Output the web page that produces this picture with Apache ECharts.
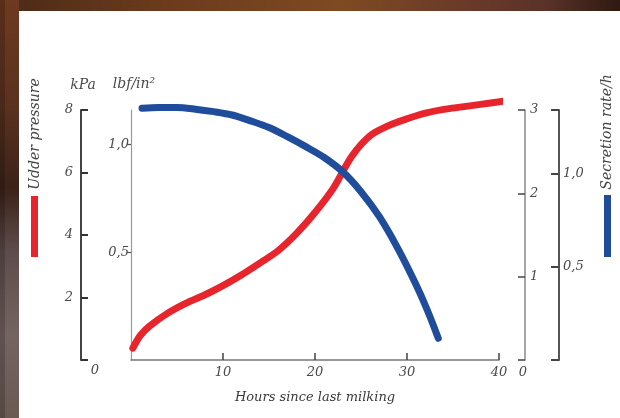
<!DOCTYPE html>
<html>
<head>
<meta charset="utf-8">
<script src="https://cdn.jsdelivr.net/npm/echarts@6/dist/echarts.min.js"></script>
<style>
html,body{margin:0;padding:0;background:#fff;}
#chart{width:620px;height:418px;}
</style>
</head>
<body>
<div id="chart"></div>
<script>
// ---- data ----
var hourTicks = [10, 20, 30, 40];
var kpaTicks = [2, 4, 6, 8];
var lbfTicks = [0.5, 1.0];
var rateTicks = [1, 2, 3];
var rateHTicks = [0.5, 1.0];
// Udder pressure (hours, kPa)
var udderPressure = [[0.2,0.38],[1,0.78],[2,1.08],[4,1.5],[6,1.82],[8,2.08],[10,2.38],[12,2.72],[14,3.1],[16,3.5],[18,4.05],[20,4.72],[22,5.5],[24,6.52],[26,7.18],[28,7.5],[30,7.72],[32,7.9],[34,8.02],[36,8.1],[38,8.18],[40.5,8.28]];
// Secretion rate (hours, units on 0-3 scale)
var secretionRate = [[1.2,3.02],[3,3.03],[5,3.03],[7,3.01],[9,2.98],[11,2.94],[13,2.87],[15,2.79],[17,2.68],[19,2.56],[21,2.43],[23,2.26],[25,2.02],[27,1.72],[29,1.34],[31,0.9],[32.2,0.6],[33.4,0.26]];

var FONT = '"DejaVu Serif", "Liberation Serif", serif';
var TXT = '#4a4a4a';
function fmtComma(v){ return (Math.round(v*10)/10).toFixed(1).replace('.', ','); }

var chart = echarts.init(document.getElementById('chart'), null, {renderer:'canvas'});
var labelStyle = {fontFamily: FONT, fontStyle: 'italic', fontSize: 13, color: TXT};

chart.setOption({
  backgroundColor: '#fff',
  animation: false,
  grid: {left: 131, right: 121, top: 110, bottom: 58, outerBoundsMode: 'none', containLabel: false},
  xAxis: [{
    type: 'value', min: 0, max: 40, interval: 10,
    splitLine: {show: false},
    axisLine: {show: true, onZero: false, lineStyle: {color: '#777', width: 1.5}},
    axisTick: {show: true, inside: true, length: 7, lineStyle: {color: '#444', width: 1.5}, customValues: hourTicks},
    axisLabel: Object.assign({margin: 6, customValues: hourTicks, formatter: function(v){return String(v);}}, labelStyle),
    name: 'Hours since last milking', nameLocation: 'middle', nameGap: 31,
    nameTextStyle: {fontFamily: FONT, fontStyle: 'italic', fontSize: 13, color: '#3a3a3a'}
  }],
  yAxis: [
    { // kPa
      type: 'value', position: 'left', offset: 50, min: 0, max: 8, interval: 2,
      splitLine: {show: false},
      axisLine: {show: true, onZero: false, lineStyle: {color: '#444', width: 2}},
      axisTick: {show: true, inside: true, length: 7, lineStyle: {color: '#333', width: 2}},
      axisLabel: Object.assign({margin: 8, customValues: kpaTicks}, labelStyle)
    },
    { // lbf/in2
      type: 'value', position: 'left', offset: 0, min: 0, max: 1.16,
      splitLine: {show: false},
      axisLine: {show: true, onZero: false, lineStyle: {color: '#999', width: 1.2}},
      axisTick: {show: true, inside: false, length: 4, lineStyle: {color: '#555', width: 1.2}, customValues: lbfTicks},
      axisLabel: Object.assign({margin: 2, customValues: lbfTicks, formatter: fmtComma}, labelStyle)
    },
    { // secretion rate 0-3
      type: 'value', position: 'right', offset: 26, min: 0, max: 3, interval: 1,
      splitLine: {show: false},
      axisLine: {show: true, onZero: false, lineStyle: {color: '#888', width: 1.5}},
      axisTick: {show: true, inside: true, length: 7, lineStyle: {color: '#444', width: 1.5}},
      axisLabel: Object.assign({margin: 5, customValues: rateTicks}, labelStyle)
    },
    { // secretion rate/h
      type: 'value', position: 'right', offset: 60, min: 0, max: 1.34,
      splitLine: {show: false},
      axisLine: {show: true, onZero: false, lineStyle: {color: '#555', width: 2}},
      axisTick: {show: true, inside: true, length: 8, lineStyle: {color: '#444', width: 2}, customValues: [0, 0.5, 1.0, 1.34]},
      axisLabel: Object.assign({margin: 4, customValues: rateHTicks, formatter: fmtComma}, labelStyle)
    }
  ],
  series: [
    {
      name: 'Udder pressure', type: 'line', xAxisIndex: 0, yAxisIndex: 0,
      data: udderPressure, smooth: 0.3, showSymbol: false, clip: false,
      lineStyle: {color: '#e8242d', width: 7, cap: 'round'}
    },
    {
      name: 'Secretion rate/h', type: 'line', xAxisIndex: 0, yAxisIndex: 2,
      data: secretionRate, smooth: 0.3, showSymbol: false, clip: false,
      lineStyle: {color: '#1f4d9c', width: 7, cap: 'round'}
    }
  ],
  graphic: [
    // photo-like border
    {type: 'rect', shape: {x: 0, y: 0, width: 620, height: 11}, z: 100,
      style: {fill: {type: 'linear', x: 0, y: 0, x2: 1, y2: 0, colorStops: [
        {offset: 0, color: '#4a2a18'}, {offset: 0.25, color: '#6a3a1c'}, {offset: 0.55, color: '#7e4a22'},
        {offset: 0.75, color: '#6a3a2a'}, {offset: 0.88, color: '#5a3228'}, {offset: 1, color: '#2e1a12'}]}}},
    {type: 'rect', shape: {x: 0, y: 0, width: 19, height: 418}, z: 100,
      style: {fill: {type: 'linear', x: 0, y: 0, x2: 0, y2: 1, colorStops: [
        {offset: 0, color: '#6e3a20'}, {offset: 0.25, color: '#5a3220'}, {offset: 0.45, color: '#3c2218'},
        {offset: 0.6, color: '#5e4c4c'}, {offset: 0.8, color: '#746460'}, {offset: 1, color: '#6a5a54'}]}}},
    {type: 'rect', shape: {x: 0, y: 0, width: 5, height: 418}, z: 101,
      style: {fill: 'rgba(0,0,0,0.18)'}},
    // axis unit names
    {type: 'text', x: 83, y: 85, z: 50, style: {text: 'kPa', font: 'italic 14px ' + FONT, fill: TXT, align: 'center', verticalAlign: 'middle'}},
    {type: 'text', x: 134, y: 84, z: 50, style: {text: 'lbf/in²', font: 'italic 14px ' + FONT, fill: TXT, align: 'center', verticalAlign: 'middle'}},
    // zero labels
    {type: 'text', x: 95, y: 371, z: 50, style: {text: '0', font: 'italic 13px ' + FONT, fill: TXT, align: 'center', verticalAlign: 'middle'}},
    {type: 'text', x: 523, y: 373, z: 50, style: {text: '0', font: 'italic 13px ' + FONT, fill: TXT, align: 'center', verticalAlign: 'middle'}},
    // rotated titles
    {type: 'text', x: 35, y: 134, rotation: Math.PI/2, z: 50,
      style: {text: 'Udder pressure', font: 'italic 14px ' + FONT, fill: '#444', align: 'center', verticalAlign: 'middle'}},
    {type: 'text', x: 607, y: 132, rotation: Math.PI/2, z: 50,
      style: {text: 'Secretion rate/h', font: 'italic 14px ' + FONT, fill: '#444', align: 'center', verticalAlign: 'middle'}},
    // legend swatches
    {type: 'rect', shape: {x: 31, y: 196, width: 7, height: 61}, z: 50, style: {fill: '#e8242d'}},
    {type: 'rect', shape: {x: 604, y: 195, width: 7, height: 62}, z: 50, style: {fill: '#1f4d9c'}}
  ]
});
</script>
</body>
</html>
